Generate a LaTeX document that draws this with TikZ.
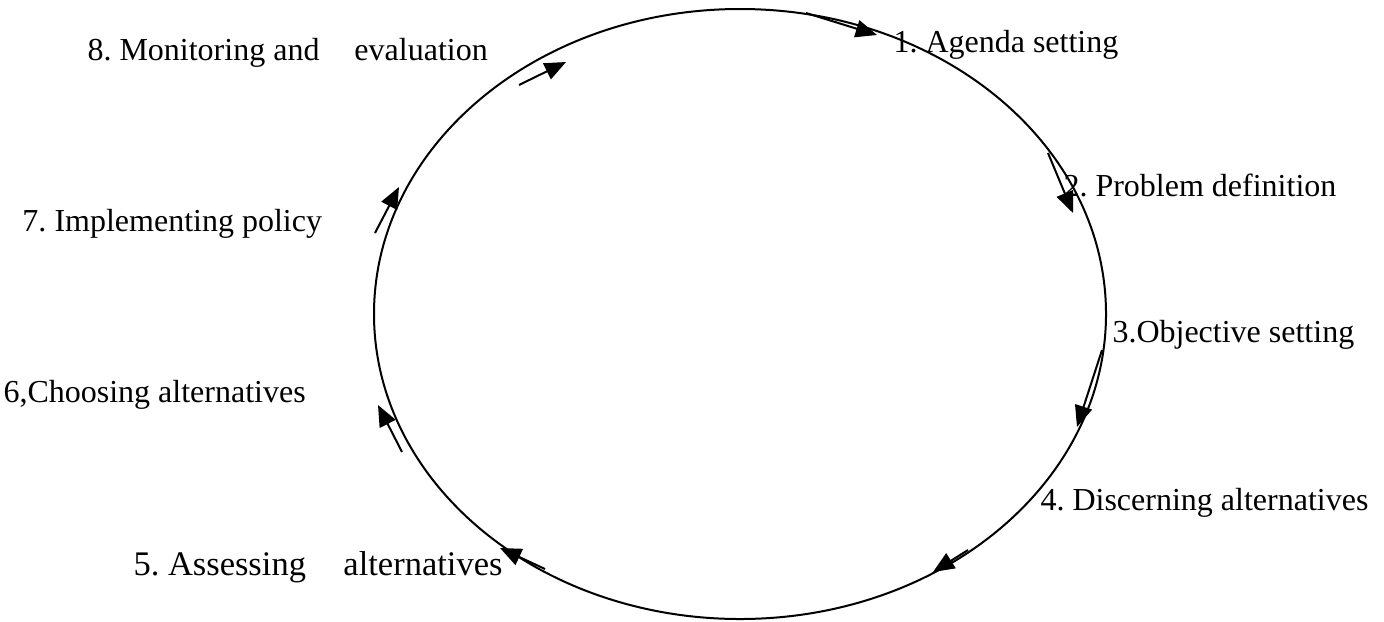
\documentclass[tikz,border=0pt]{standalone}
\usepackage{fontspec}
\setmainfont{Liberation Serif}
\usetikzlibrary{arrows.meta}
\frenchspacing
\tikzset{
	stage/.style={
		inner sep=0pt,
		anchor=base west,
		font=\fontsize{12.8}{15}\selectfont
	},
	flow/.style={
		-{Triangle[length=8.5pt,width=7pt]},
		line width=0.8pt
	},
	cycle/.style={
		line width=0.8pt
	}
}

\begin{document}
\begin{tikzpicture}[x=0.4pt,y=-0.4pt]
	\useasboundingbox (0,0) rectangle (1384,621);
	
	\draw[cycle] (740,314) ellipse [x radius=146.4pt, y radius=122pt];
	
	% Stages
	\node[stage] (agenda) at (893,52) {1. Agenda setting};
	\node[stage] (problem) at (1063,196) {2. Problem definition};
	\node[stage] (objective) at (1112,342) {3.Objective setting};
	\node[stage] (discern) at (1040,510) {4. Discerning alternatives};
	\node[stage, font=\fontsize{13.8}{16}\selectfont] (assess) at (133,575) {5. Assessing\hspace{15pt}alternatives};
	\node[stage] (choose) at (3,402) {6,Choosing alternatives};
	\node[stage] (implement) at (22,231) {7. Implementing policy};
	\node[stage] (monitor) at (87,60) {8. Monitoring and\hspace{14pt}evaluation};
	
	% Arrows along the cycle
	\coordinate (s1) at (806,13);   \coordinate (e1) at (877,35);
	\coordinate (s2) at (1048,153); \coordinate (e2) at (1073,213);
	\coordinate (s3) at (1102,350); \coordinate (e3) at (1077,427);
	\coordinate (s4) at (968,550);  \coordinate (e4) at (933,572);
	\coordinate (s5) at (545,569);  \coordinate (e5) at (500,548);
	\coordinate (s6) at (402,452);  \coordinate (e6) at (378,405);
	\coordinate (s7) at (375,233);  \coordinate (e7) at (399,187);
	\coordinate (s8) at (519,85);   \coordinate (e8) at (566,62);
	
	\draw[flow] (s1) -- (e1);
	\draw[flow] (s2) -- (e2);
	\draw[flow] (s3) -- (e3);
	\draw[flow] (s4) -- (e4);
	\draw[flow] (s5) -- (e5);
	\draw[flow] (s6) -- (e6);
	\draw[flow] (s7) -- (e7);
	\draw[flow] (s8) -- (e8);
	
\end{tikzpicture}
\end{document}
